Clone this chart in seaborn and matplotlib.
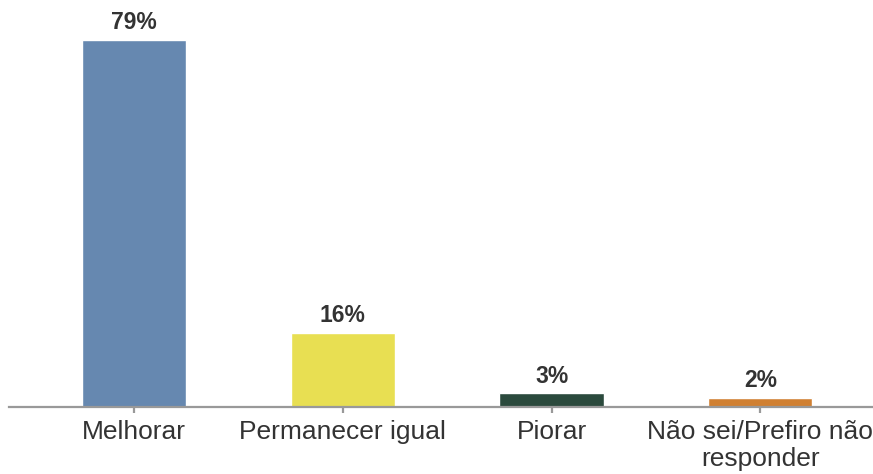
import pandas as pd
import seaborn as sns
import matplotlib.pyplot as plt

categories = ['Melhorar', 'Permanecer igual', 'Piorar', 'Não sei/Prefiro não\nresponder']
values = [79, 16, 3, 2]
colors = ['#6688b0', '#e8df52', '#2b4a3d', '#d08032']

df = pd.DataFrame({'cat': categories, 'pct': values})

sns.set_style('white')
plt.rcParams['font.family'] = ['Liberation Sans', 'DejaVu Sans']

fig = plt.figure(figsize=(8.73, 4.74), dpi=100)
ax = fig.add_axes([9 / 873, 67 / 474, 864 / 873, 407 / 474])

sns.barplot(data=df, x='cat', y='pct', hue='cat', palette=colors,
            legend=False, width=0.5, ax=ax, saturation=1)

for c in ax.containers:
    ax.bar_label(c, labels=[f'{v:.0f}%' for v in c.datavalues], padding=4,
                 fontsize=16.5, fontweight='bold', color='#333333')

ax.set_xlim(-0.6, 3.54)
ax.set_ylim(0, 87.6)
ax.set_xlabel('')
ax.set_ylabel('')
ax.set_yticks([])
for s in ['top', 'right', 'left']:
    ax.spines[s].set_visible(False)
ax.spines['bottom'].set_color('#999999')
ax.spines['bottom'].set_linewidth(1.6)
ax.tick_params(axis='x', bottom=True, length=4.5, width=1.6, color='#999999',
               pad=5, labelsize=19, labelcolor='#333333')
for t in ax.get_xticklabels():
    t.set_linespacing(1.15)

fig.savefig('out.png', dpi=100)
